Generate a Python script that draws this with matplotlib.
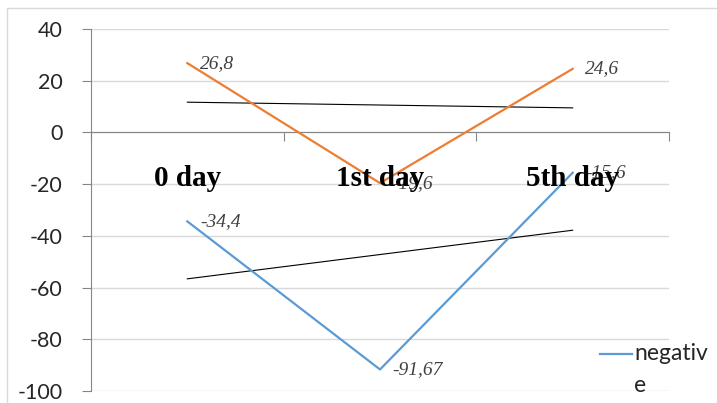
import numpy as np
import matplotlib.pyplot as plt
from matplotlib.lines import Line2D
from matplotlib.patches import Rectangle

# values per measuring day
days = ['0 day', '1st day', '5th day']
positive = [26.8, -19.6, 24.6]
negative = [-34.4, -91.67, -15.6]
y_ticks = [40, 20, 0, -20, -40, -60, -80, -100]

orange = '#ED7D31'
blue = '#5B9BD5'
axis_grey = '#868686'
grid_grey = '#d9d9d9'

plt.rcParams['axes.unicode_minus'] = False


def fmt(v):
    # decimal comma, as in the source table
    return ('%g' % v).replace('.', ',')


x = np.arange(len(days))

fig = plt.figure(figsize=(7.17, 4.03), dpi=100)
ax = fig.add_axes([91 / 717, 1 - 391 / 403, (669 - 91) / 717, (391 - 29) / 403])

# chart area border
fig.patches.append(Rectangle((7 / 717, -0.1), 1.2, 1.1 - 8 / 403, transform=fig.transFigure,
                             fill=False, edgecolor=grid_grey, lw=1))

ax.plot(x, positive, color=orange, lw=1.6, zorder=3)
ax.plot(x, negative, color=blue, lw=1.6, zorder=3)

# linear trend lines
for series in (positive, negative):
    k, b = np.polyfit(x, series, 1)
    ax.plot(x, k * x + b, color='black', lw=0.8, zorder=2)

# data labels right of each point
for series in (positive, negative):
    for i, v in enumerate(series):
        ax.annotate(fmt(v), (i, v), xytext=(9, 0), textcoords='offset points',
                    ha='left', va='center', fontstyle='italic', family='Liberation Serif',
                    fontsize=14, color='#404040', zorder=4)

# category names sit next to the zero line
for i, d in enumerate(days):
    ax.text(i, -20.9, d, ha='center', va='baseline', family='Liberation Serif',
            fontweight='bold', fontsize=21, color='black', zorder=5)

ax.set_xlim(-0.5, 2.5)
ax.set_ylim(-100, 40)
ax.set_yticks(y_ticks)
ax.set_xticks([-0.5, 0.5, 1.5, 2.5])
ax.set_xticklabels([])
ax.yaxis.grid(True, color=grid_grey, lw=1)
ax.set_axisbelow(True)

for s in ('top', 'right'):
    ax.spines[s].set_visible(False)
ax.spines['left'].set_color(axis_grey)
ax.spines['bottom'].set_position(('data', 0))
ax.spines['bottom'].set_color(axis_grey)
ax.tick_params(axis='y', direction='out', length=6.5, color=axis_grey, pad=14,
               labelsize=15.5, labelcolor='#262626')
ax.tick_params(axis='x', direction='out', length=6.5, color=axis_grey)
for lab in ax.get_yticklabels():
    lab.set_family('Lato')

# legend entry
fig.add_artist(Line2D([600 / 717, 632 / 717], [1 - 354 / 403] * 2, color=blue, lw=1.6,
                      transform=fig.transFigure))
fig.text(634 / 717, 1 - 353 / 403, 'negativ', va='center', ha='left', family='Lato',
         fontsize=16.5, color='#262626')
fig.text(634 / 717, 1 - 386 / 403, 'e', va='center', ha='left', family='Lato',
         fontsize=16.5, color='#262626')

fig.savefig('out.png', dpi=100)
